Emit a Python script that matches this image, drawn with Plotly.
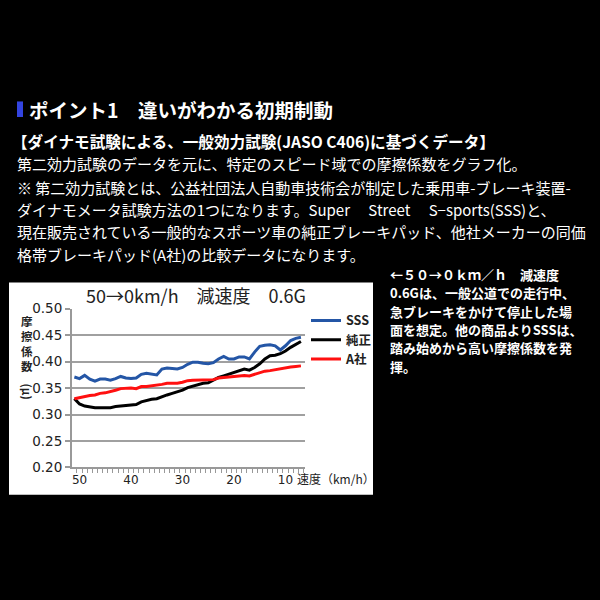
import plotly.graph_objects as go

# ---- data ----
speed = [51, 50, 49, 48, 47, 46, 45, 44, 43, 42, 41, 40, 39, 38, 37, 36, 35, 34, 33, 32,
         31, 30, 29, 28, 27, 26, 25, 24, 23, 22, 21, 20, 19, 18, 17, 16, 15, 14, 13, 12,
         11, 10, 9, 8, 7]
sss = [0.371, 0.368, 0.374, 0.367, 0.363, 0.367, 0.367, 0.365, 0.368, 0.372,
       0.369, 0.368, 0.369, 0.376, 0.378, 0.377, 0.375, 0.386, 0.388, 0.387,
       0.386, 0.389, 0.395, 0.399, 0.399, 0.397, 0.396, 0.398, 0.405, 0.410,
       0.405, 0.405, 0.409, 0.409, 0.405, 0.418, 0.429, 0.431, 0.432, 0.430,
       0.422, 0.430, 0.440, 0.444, 0.446]
junsei = [0.330, 0.320, 0.316, 0.314, 0.313, 0.313, 0.313, 0.313, 0.315, 0.316,
          0.318, 0.319, 0.319, 0.324, 0.327, 0.329, 0.330, 0.334, 0.337, 0.340,
          0.343, 0.346, 0.351, 0.354, 0.357, 0.359, 0.360, 0.365, 0.370, 0.373,
          0.376, 0.380, 0.383, 0.386, 0.384, 0.389, 0.396, 0.405, 0.411, 0.412,
          0.415, 0.420, 0.427, 0.432, 0.438]
a_sha = [0.330, 0.332, 0.335, 0.336, 0.337, 0.340, 0.341, 0.343, 0.346, 0.349,
         0.350, 0.350, 0.349, 0.353, 0.353, 0.354, 0.355, 0.357, 0.359, 0.359,
         0.359, 0.361, 0.364, 0.365, 0.365, 0.365, 0.366, 0.366, 0.369, 0.370,
         0.371, 0.372, 0.373, 0.374, 0.373, 0.376, 0.379, 0.382, 0.383, 0.385,
         0.387, 0.388, 0.390, 0.391, 0.392]
series_names = ["SSS", "純正", "A社"]
series_colors = ["#2456A6", "#000000", "#FF1010"]
x_tick_vals = [50, 40, 30, 20, 10]
y_tick_vals = [0.20, 0.25, 0.30, 0.35, 0.40, 0.45, 0.50]

heading = "ポイント1　違いがわかる初期制動"
subheading = "【ダイナモ試験による、一般効力試験(JASO C406)に基づくデータ】"
body_lines = [
    "第二効力試験のデータを元に、特定のスピード域での摩擦係数をグラフ化。",
    "※ 第二効力試験とは、公益社団法人自動車技術会が制定した乗用車-ブレーキ装置-",
    "ダイナモメータ試験方法の1つになります。Super　 Street　 S−sports(SSS)と、",
    "現在販売されている一般的なスポーツ車の純正ブレーキパッド、他社メーカーの同価",
    "格帯ブレーキパッド(A社)の比較データになります。",
]
side_lines = [
    "←５０→０ｋｍ／ｈ　減速度",
    "0.6Gは、一般公道での走行中、",
    "急ブレーキをかけて停止した場",
    "面を想定。他の商品よりSSSは、",
    "踏み始めから高い摩擦係数を発",
    "揮。",
]
chart_title = "50→0km/h　減速度　0.6G"
y_title_chars = ["摩", "擦", "係", "数"]
y_title_unit = "(μ)"
x_unit = "速度（km/h）"

W, H = 600, 600
JP = "Noto Sans CJK JP"


def px(x):
    return x / W


def py(y):
    return 1 - y / H


fig = go.Figure()
for name, vals, col in zip(series_names, [sss, junsei, a_sha], series_colors):
    fig.add_trace(go.Scatter(x=speed, y=vals, mode="lines", name=name,
                             line=dict(color=col, width=3)))

fig.update_layout(
    width=W, height=H, margin=dict(l=0, r=0, t=0, b=0),
    paper_bgcolor="#000000", plot_bgcolor="#FFFFFF",
    font=dict(family=JP, color="#222222"),
    title=dict(text=chart_title, x=px(196), xanchor="center", y=py(297), yanchor="middle",
               xref="paper", yref="paper",
               font=dict(family=JP, size=18, color="#222222")),
    xaxis=dict(domain=[px(72), px(305)], range=[51.46, 6.21],
               tickmode="array", tickvals=x_tick_vals, ticks="",
               tickfont=dict(family="DejaVu Sans", size=12, color="#222222"),
               showline=True, linecolor="#999999", linewidth=2,
               showgrid=False, zeroline=False,
               minor=dict(ticks="outside", ticklen=4, tickcolor="#999999", tickwidth=1,
                          tick0=0.5, dtick=1, showgrid=False)),
    yaxis=dict(domain=[py(472), py(309)], range=[0.20, 0.50],
               tickmode="array", tickvals=y_tick_vals, tickformat=".2f",
               ticks="outside", ticklen=5, tickcolor="#999999", tickwidth=1.5,
               tickfont=dict(family="DejaVu Sans", size=13.5, color="#222222"),
               showline=True, linecolor="#999999", linewidth=2,
               showgrid=True, gridcolor="#A0A0A0", gridwidth=1.5, zeroline=False),
    legend=dict(x=px(306), y=py(306), xanchor="left", yanchor="top",
                bgcolor="rgba(0,0,0,0)", itemwidth=30, tracegroupgap=0,
                font=dict(family=JP, size=12.5, color="#222222", weight="bold")),
)

shapes = [
    dict(type="rect", xref="paper", yref="paper", x0=px(9), x1=px(373), y0=py(500), y1=py(282),
         fillcolor="#FFFFFF", line=dict(width=0), layer="below"),
    dict(type="rect", xref="paper", yref="paper", x0=px(17), x1=px(23), y0=py(112), y1=py(96),
         fillcolor="#3344E0", line=dict(width=0)),
]
fig.update_layout(shapes=shapes)

ann = []
ann.append(dict(text=heading, x=px(27), y=py(104), xanchor="left", yanchor="middle",
                font=dict(family=JP, size=19.5, color="#FFFFFF", weight="bold")))
ann.append(dict(text=subheading, x=px(10), y=py(137), xanchor="left", yanchor="middle",
                font=dict(family=JP, size=15.6, color="#FFFFFF", weight="bold")))
body_y = [160, 184, 207, 230, 253]
for t, yy in zip(body_lines, body_y):
    ann.append(dict(text=t, x=px(15), y=py(yy), xanchor="left", yanchor="middle",
                    font=dict(family=JP, size=15, color="#FFFFFF")))
side_y = [274, 292.8, 311.6, 330.4, 349.2, 368]
for t, yy in zip(side_lines, side_y):
    ann.append(dict(text=t, x=px(388), y=py(yy), xanchor="left", yanchor="middle",
                    font=dict(family=JP, size=13, color="#FFFFFF", weight="bold")))
ann.append(dict(text="<br>".join(y_title_chars), x=px(27), y=py(344.5), xanchor="center",
                yanchor="middle",
                font=dict(family=JP, size=11.5, color="#222222", weight="bold")))
ann.append(dict(text=y_title_unit, x=px(27), y=py(394), xanchor="center", yanchor="middle",
                textangle=90,
                font=dict(family=JP, size=11.5, color="#222222", weight="bold")))
ann.append(dict(text=x_unit, x=px(295), y=py(483), xanchor="left", yanchor="middle",
                font=dict(family=JP, size=12, color="#222222")))
for a in ann:
    a.update(xref="paper", yref="paper", showarrow=False)
fig.update_layout(annotations=ann)

fig.write_html("out.html", config={"displayModeBar": False},
               post_script="document.body.style.margin='0px';")
